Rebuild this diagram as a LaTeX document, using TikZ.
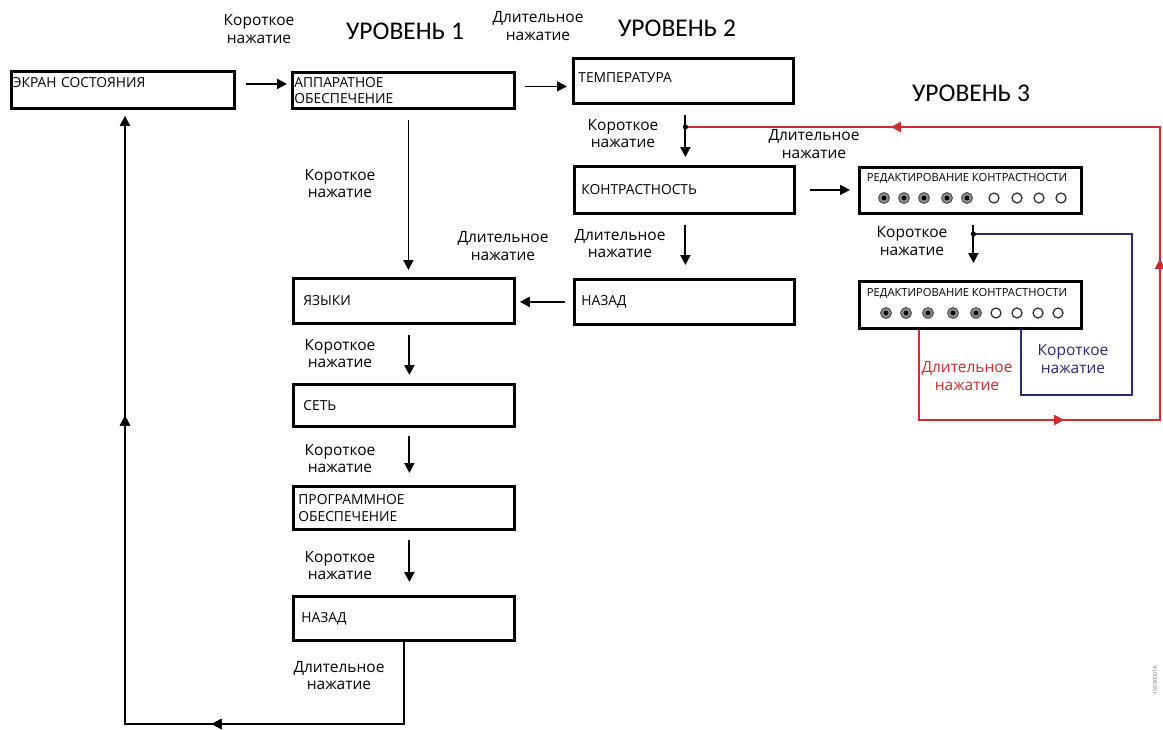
\documentclass[tikz,border=0pt]{standalone}
\usepackage{fontspec}
\setmainfont{Open Sans}
\newfontfamily\calib{Carlito}
\usetikzlibrary{arrows.meta,decorations.markings}
\definecolor{lred}{RGB}{205,45,45}
\definecolor{lblue}{RGB}{40,40,120}
\begin{document}
\begin{tikzpicture}[x=1pt,y=-1pt,
  box/.style={draw, line width=2.8pt, anchor=north west, align=left, inner ysep=0pt,
    font=\fontsize{13.8}{16.5}\selectfont},
  lbl/.style={align=center, inner sep=0pt, font=\fontsize{15.5}{17.5}\selectfont},
  lvl/.style={inner sep=0pt, font=\calib\fontsize{25.5}{28}\selectfont},
  ttl/.style={inner sep=0pt, font=\fontsize{11.2}{12}\selectfont},
  tip/.style={-{Triangle[length=10pt,width=10pt]}},
  conn/.style={draw, line width=2pt, tip},
  thin/.style={draw, line width=1.3pt, tip},
  mtip/.style={decoration={markings, mark=at position #1 with {\arrow{Triangle[length=10pt,width=10pt]}}}, postaction={decorate}},
]
\useasboundingbox (0,0) rectangle (1163,729);

% ---------- boxes ----------
\node[box, minimum width=223pt, minimum height=37pt, inner xsep=1.5pt, text width=220pt, text depth=14pt] (ekran) at (10,70) {ЭКРАН СОСТОЯНИЯ};
\node[box, minimum width=222pt, minimum height=36pt, inner xsep=2pt, text width=218pt] (app) at (291,71) {АППАРАТНОЕ\\ОБЕСПЕЧЕНИЕ};
\node[box, minimum width=220pt, minimum height=45pt, inner xsep=5pt, text width=210pt, text depth=7pt] (temp) at (572,57) {ТЕМПЕРАТУРА};
\node[box, minimum width=220pt, minimum height=47pt, inner xsep=7pt, text width=206pt] (kontr) at (573,165) {КОНТРАСТНОСТЬ};
\node[box, minimum width=220pt, minimum height=45pt, inner xsep=7pt, text width=206pt] (nazad2) at (573,278) {НАЗАД};
\node[box, minimum width=221pt, minimum height=45pt, inner xsep=10pt, text width=201pt] (yaz) at (292,277) {ЯЗЫКИ};
\node[box, minimum width=221pt, minimum height=42pt, inner xsep=10pt, text width=201pt] (set) at (292,383) {СЕТЬ};
\node[box, minimum width=221pt, minimum height=43pt, inner xsep=5pt, text width=211pt] (prog) at (292,485) {ПРОГРАММНОЕ\\ОБЕСПЕЧЕНИЕ};
\node[box, minimum width=221pt, minimum height=44pt, inner xsep=8pt, text width=205pt] (nazad1) at (292,595) {НАЗАД};
\node[box, minimum width=222pt, minimum height=46pt] (red1) at (858,166) {};
\node[box, minimum width=222pt, minimum height=47pt] (red2) at (858,280) {};

% level 3 box contents
\node[ttl] (t1) at (967,178) {РЕДАКТИРОВАНИЕ КОНТРАСТНОСТИ};
\node[ttl] (t2) at (967,293) {РЕДАКТИРОВАНИЕ КОНТРАСТНОСТИ};
\foreach \px in {884,904,924,947,967}{
  \fill[black!45] (\px,198) circle[radius=5.5pt];
  \fill[black] (\px,198) circle[radius=2.4pt];
  \draw[black!75, line width=0.8pt] (\px,198) circle[radius=5.5pt];}
\foreach \px in {994,1017,1039,1061}{
  \draw[black!80, line width=1.3pt] (\px,198) circle[radius=5pt];}
\foreach \px in {886,906,928,953,976}{
  \fill[black!45] (\px,313) circle[radius=5.5pt];
  \fill[black] (\px,313) circle[radius=2.4pt];
  \draw[black!75, line width=0.8pt] (\px,313) circle[radius=5.5pt];}
\foreach \px in {996,1017,1038,1058}{
  \draw[black!80, line width=1.3pt] (\px,313) circle[radius=5pt];}

% ---------- headings and labels ----------
\node[lvl] (l1) at (405,31) {УРОВЕНЬ 1};
\node[lvl] (l2) at (677,28) {УРОВЕНЬ 2};
\node[lvl] (l3) at (971,93) {УРОВЕНЬ 3};
\node[lbl] (k0) at (259,29) {Короткое\\нажатие};
\node[lbl] (d0) at (538,26) {Длительное\\нажатие};
\node[lbl] (k1) at (340,183.5) {Короткое\\нажатие};
\node[lbl] (d1) at (503,246) {Длительное\\нажатие};
\node[lbl] (k2) at (623,133.5) {Короткое\\нажатие};
\node[lbl] (d2) at (620,243.5) {Длительное\\нажатие};
\node[lbl] (d3) at (814,144) {Длительное\\нажатие};
\node[lbl] (k3) at (912,241) {Короткое\\нажатие};
\node[lbl, text=lred] (d4) at (967,376) {Длительное\\нажатие};
\node[lbl, text=lblue] (k4) at (1073,359) {Короткое\\нажатие};
\node[lbl] (k5) at (340,353.5) {Короткое\\нажатие};
\node[lbl] (k6) at (340,458.5) {Короткое\\нажатие};
\node[lbl] (k7) at (340,565.5) {Короткое\\нажатие};
\node[lbl] (d5) at (339,675.5) {Длительное\\нажатие};
\node[rotate=90, inner sep=0pt, text=black!55, font=\fontsize{5.5}{6}\selectfont] (code) at (1155,680) {15080001A};

% ---------- connectors ----------
\draw[conn, shorten <=10pt, shorten >=4pt] ([yshift=6pt]ekran.east) -- ([yshift=6pt]ekran.east -| app.west);
\coordinate (a1) at ([yshift=4pt]app.east);
\draw[conn, line width=1.6pt, shorten <=9pt, shorten >=5pt] (a1) -- (a1 -| temp.west);
\draw[thin, shorten <=10pt, shorten >=7pt] ([xshift=5pt]app.south) -- ([xshift=5pt]app.south |- yaz.north);

\coordinate (rj) at ([xshift=2pt]temp.south |- 0,127);
\draw[conn, shorten <=10pt, shorten >=8pt] ([xshift=2pt]temp.south) -- ([xshift=2pt]temp.south |- kontr.north);
\draw[conn, shorten <=10pt, shorten >=13pt] ([xshift=1pt]kontr.south) -- ([xshift=1pt]kontr.south |- nazad2.north);
\draw[conn, shorten <=8pt, shorten >=4pt] (nazad2.west) -- (nazad2.west -| yaz.east);
\draw[conn, shorten <=14pt, shorten >=8pt] (kontr.east) -- (kontr.east -| red1.west);

\coordinate (bj) at ([xshift=3pt]red1.south |- 0,234);
\draw[conn, shorten <=10pt, shorten >=17pt] ([xshift=3pt]red1.south) -- ([xshift=3pt]red1.south |- red2.north);

\draw[conn, shorten <=10pt, shorten >=8pt] ([xshift=5.5pt]yaz.south) -- ([xshift=5.5pt]yaz.south |- set.north);
\draw[conn, shorten <=8pt, shorten >=12pt] ([xshift=5.5pt]set.south) -- ([xshift=5.5pt]set.south |- prog.north);
\draw[conn, shorten <=9pt, shorten >=13pt] ([xshift=5.5pt]prog.south) -- ([xshift=5.5pt]prog.south |- nazad1.north);

% return to status screen
\coordinate (lc) at (125,724);
\draw[conn, shorten >=6pt, mtip=275pt, mtip=670pt] ([xshift=0.5pt]nazad1.south) |- (lc) -- (lc |- ekran.south);

% red loop
\coordinate (rc2) at (1160,420);
\coordinate (rc1) at (1160,127);
\draw[draw=lred, line width=2pt,
  decoration={markings,
    mark=at position 235pt with {\arrow{Triangle[length=10pt,width=10pt]}},
    mark=at position 492pt with {\arrow{Triangle[length=10pt,width=10pt]}},
    mark=at position 893pt with {\arrow{Triangle[length=10pt,width=10pt]}}},
  postaction={decorate}]
  ([xshift=-51pt]red2.south) |- (rc2) -- (rc1) -- (rj);

% blue loop
\coordinate (bc2) at (1132,395);
\draw[draw=lblue, line width=2pt] ([xshift=51pt]red2.south) |- (bc2) |- (bj);

\fill (rj) circle[radius=2.6pt];
\fill (bj) circle[radius=2.6pt];
\end{tikzpicture}
\end{document}
